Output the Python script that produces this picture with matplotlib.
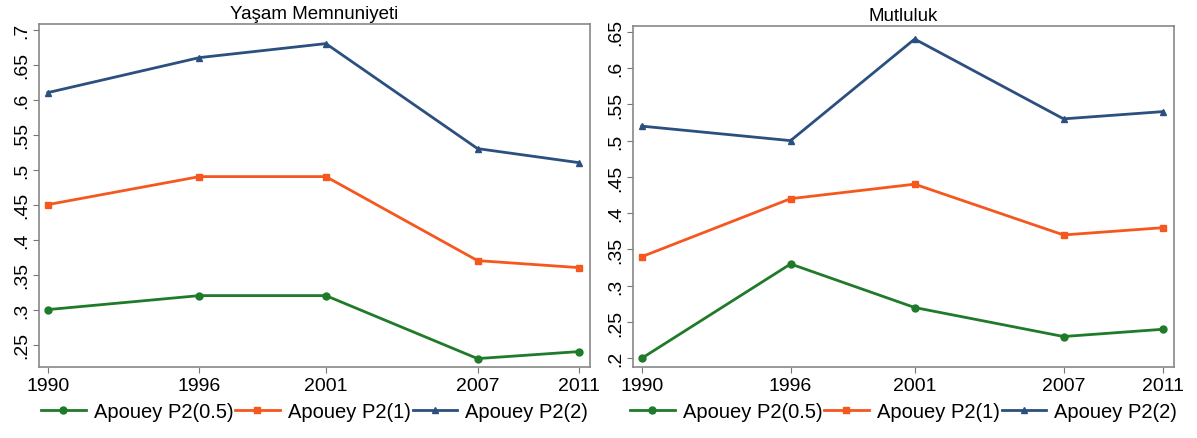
import matplotlib
matplotlib.use("Agg")
import matplotlib.pyplot as plt
from matplotlib.ticker import FuncFormatter

years = [1990, 1996, 2001, 2007, 2011]
labels = ["Apouey P2(0.5)", "Apouey P2(1)", "Apouey P2(2)"]

# Yasam Memnuniyeti
life_p05 = [0.30, 0.32, 0.32, 0.23, 0.24]
life_p1 = [0.45, 0.49, 0.49, 0.37, 0.36]
life_p2 = [0.61, 0.66, 0.68, 0.53, 0.51]

# Mutluluk
happy_p05 = [0.20, 0.33, 0.27, 0.23, 0.24]
happy_p1 = [0.34, 0.42, 0.44, 0.37, 0.38]
happy_p2 = [0.52, 0.50, 0.64, 0.53, 0.54]

left_ticks = [0.25, 0.3, 0.35, 0.4, 0.45, 0.5, 0.55, 0.6, 0.65, 0.7]
right_ticks = [0.2, 0.25, 0.3, 0.35, 0.4, 0.45, 0.5, 0.55, 0.6, 0.65]

colors = ["#1f7a2a", "#f5571f", "#2b4f7e"]
markers = ["o", "s", "^"]
plt.rcParams["font.family"] = ["Liberation Sans", "DejaVu Sans"]


def fmt(v, pos):
    s = ("%.2f" % v).rstrip("0").rstrip(".")
    return s[1:] if s.startswith("0") else s


fig = plt.figure(figsize=(11.97, 4.39), dpi=100)
ax1 = fig.add_axes([39 / 1197, 1 - 368 / 439, 551 / 1197, 343 / 439])
ax2 = fig.add_axes([633 / 1197, 1 - 368 / 439, 541 / 1197, 341 / 439])

panels = [
    (ax1, "Yaşam Memnuniyeti", [life_p05, life_p1, life_p2], left_ticks, (0.218, 0.708)),
    (ax2, "Mutluluk", [happy_p05, happy_p1, happy_p2], right_ticks, (0.188, 0.658)),
]

for ax, title, series, ticks, ylim in panels:
    for vals, c, m, lab in zip(series, colors, markers, labels):
        ax.plot(years, vals, color=c, marker=m, markersize=5, linewidth=2, label=lab)
    ax.set_xlim(1989.65, 2011.45)
    ax.set_ylim(*ylim)
    ax.set_xticks(years)
    ax.set_yticks(ticks)
    ax.yaxis.set_major_formatter(FuncFormatter(fmt))
    ax.tick_params(axis="y", labelrotation=90, labelsize=14, color="#777777", length=4, pad=2)
    ax.tick_params(axis="x", labelsize=14, color="#777777", length=4, pad=3)
    for lbl in ax.get_yticklabels():
        lbl.set_va("center")
    for sp in ax.spines.values():
        sp.set_color("#888888")
        sp.set_linewidth(1.2)
    ax.set_title(title, fontsize=13.5, pad=4)
    ax.legend(loc="upper center", bbox_to_anchor=(0.5, -0.06), ncol=3, frameon=False,
              fontsize=14.5, columnspacing=0.1, handlelength=2.2, handletextpad=0.4,
              borderpad=0.2)

fig.savefig("out.png", dpi=100)
